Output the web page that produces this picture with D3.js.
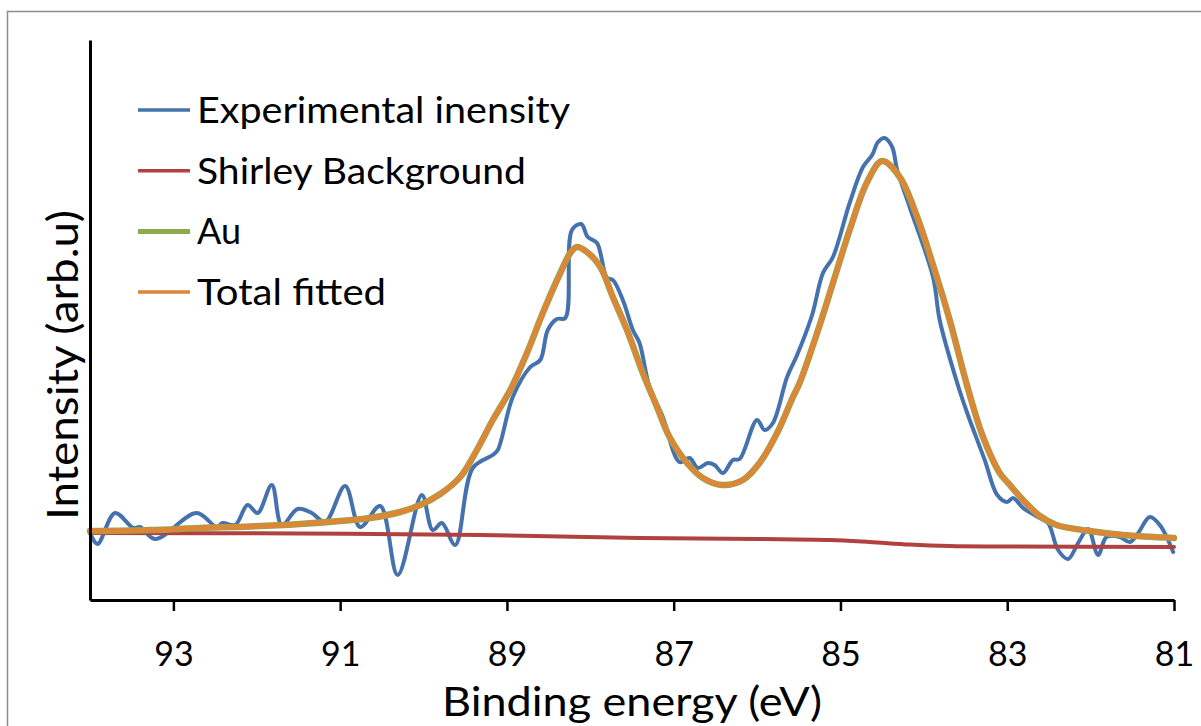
<!DOCTYPE html>
<html>
<head>
<meta charset="utf-8">
<script src="https://cdn.jsdelivr.net/npm/d3@7/dist/d3.min.js"></script>
<style>
  html, body { margin: 0; padding: 0; background: #fff; }
  svg { display: block; font-family: Lato, "Open Sans", sans-serif; }
</style>
</head>
<body>
<svg id="chart" width="1201" height="726"></svg>
<script>
// Au 4f XPS spectrum: binding energy (eV) vs intensity (arb. units)
const tickEnergies = [93, 91, 89, 87, 85, 83, 81];

const expEnergy = [94.00, 93.91, 93.70, 93.48, 93.40, 93.22, 92.72, 92.48, 92.41, 92.26, 92.11, 91.99, 91.82, 91.70,
  91.51, 91.34, 91.18, 90.94, 90.76, 90.52, 90.31, 90.02, 89.89, 89.78, 89.62, 89.41, 89.17, 89.11, 88.93, 88.72,
  88.60, 88.51, 88.40, 88.30, 88.22, 88.11, 88.03, 87.92, 87.80, 87.73, 87.61, 87.49, 87.41, 87.29, 87.13, 86.93,
  86.81, 86.71, 86.59, 86.51, 86.41, 86.29, 86.21, 86.00, 85.91, 85.81, 85.64, 85.52, 85.34, 85.21, 85.09, 84.89,
  84.73, 84.62, 84.55, 84.47, 84.38, 84.32, 84.17, 83.89, 83.81, 83.60, 83.48, 83.27, 83.12, 83.00, 82.93, 82.81,
  82.61, 82.51, 82.39, 82.27, 82.15, 82.03, 81.91, 81.81, 81.65, 81.53, 81.43, 81.29, 81.17, 81.01];
const expIntensity = [67, 56, 87, 72, 73, 61, 87, 73, 77, 75, 95, 87, 115, 75,
  91, 87, 78, 114, 73, 94, 25, 105, 70, 77, 55, 132, 145, 150, 203, 233,
  240, 270, 281, 282, 370, 376, 363, 357, 322, 320, 300, 270, 257, 213, 183, 138,
  142, 132, 137, 135, 127, 140, 141, 180, 170, 177, 223, 245, 285, 327, 343, 397,
  433, 445, 458, 462, 453, 430, 393, 323, 280, 217, 187, 140, 105, 98, 102, 92,
  82, 77, 50, 41, 57, 71, 45, 63, 63, 58, 67, 83, 75, 48];

const bgEnergy = [94.00, 91.48, 89.32, 88.36, 87.41, 85.97, 85.13, 84.65, 84.17, 83.69, 83.09, 81.00];
const bgIntensity = [67, 66.5, 65, 63.5, 62, 61, 60, 58, 55.5, 54, 53.5, 53];

const fitEnergy = [94.00, 93.28, 92.68, 92.08, 91.48, 91.00, 90.64, 90.28, 90.04, 89.80, 89.56, 89.36, 89.17, 88.96,
  88.76, 88.57, 88.36, 88.24, 88.16, 88.04, 87.88, 87.73, 87.56, 87.37, 87.20, 87.05, 86.84, 86.65, 86.42, 86.17,
  85.97, 85.76, 85.57, 85.49, 85.28, 85.09, 84.89, 84.68, 84.50, 84.29, 84.08, 83.89, 83.69, 83.48, 83.29, 83.09,
  83.00, 82.81, 82.61, 82.41, 82.01, 81.61, 81.00];
const auIntensity = [69, 70, 72, 73.5, 76, 79, 82, 88, 95, 106, 123, 150, 180, 210,
  247, 287, 327, 347, 353, 348, 333, 303, 270, 227, 193, 163, 137, 122, 115, 120,
  137, 167, 203, 217, 267, 317, 370, 418, 439, 423, 383, 335, 280, 214, 163, 127,
  118, 100, 84, 75, 69, 65, 62];
// The fitted envelope is made up of the Au doublet alone
const totalIntensity = auIntensity.slice();

const series = [
  { name: "Experimental inensity", color: "#4572ae", width: 4,   e: expEnergy, v: expIntensity,   label: 373 },
  { name: "Shirley Background",    color: "#b0413e", width: 4,   e: bgEnergy,  v: bgIntensity,    label: 329 },
  { name: "Au",                    color: "#8bab4c", width: 6.5, e: fitEnergy, v: auIntensity,    label: 44 },
  { name: "Total fitted",          color: "#dd8637", width: 5,   e: fitEnergy, v: totalIntensity, label: 189 }
];

const svg = d3.select("#chart");

// outer chart frame
svg.append("rect")
  .attr("x", 7.5).attr("y", 11.5).attr("width", 1200).attr("height", 720)
  .attr("fill", "none").attr("stroke", "#8c8c8c").attr("stroke-width", 1.5);

const x = d3.scaleLinear().domain([94, 81]).range([90, 1174]);
const y = d3.scaleLinear().domain([0, 560]).range([600, 40]);

const line = d3.line()
  .x(d => x(d[0])).y(d => y(d[1]))
  .curve(d3.curveCatmullRom.alpha(0.5));

const plot = svg.append("g");
series.forEach(s => {
  plot.append("path")
    .datum(s.e.map((e, i) => [e, s.v[i]]))
    .attr("d", line)
    .attr("fill", "none")
    .attr("stroke", s.color)
    .attr("stroke-width", s.width)
    .attr("stroke-linejoin", "round")
    .attr("stroke-linecap", "round");
});

// axes
const xAxis = svg.append("g")
  .attr("transform", "translate(0,600)")
  .call(d3.axisBottom(x).tickValues(tickEnergies).tickSize(11).tickSizeOuter(0).tickPadding(31)
    .tickFormat(d3.format("d")));
xAxis.select(".domain").attr("stroke", "#000").attr("stroke-width", 3);
xAxis.selectAll(".tick line").attr("stroke", "#000").attr("stroke-width", 2.5);
xAxis.selectAll(".tick text")
  .attr("fill", "#000").style("font-size", "34px").style("font-family", "Lato, sans-serif");

const yAxis = svg.append("g")
  .attr("transform", "translate(90,0)")
  .call(d3.axisLeft(y).tickValues([]).tickSizeOuter(0));
yAxis.select(".domain").attr("stroke", "#000").attr("stroke-width", 3);

// axis titles
svg.append("text")
  .attr("x", 632).attr("y", 716)
  .attr("text-anchor", "middle")
  .attr("textLength", 380).attr("lengthAdjust", "spacingAndGlyphs")
  .style("font-size", "40px")
  .text("Binding energy (eV)");

svg.append("text")
  .attr("transform", "translate(78,365) rotate(-90)")
  .attr("text-anchor", "middle")
  .attr("textLength", 310).attr("lengthAdjust", "spacingAndGlyphs")
  .style("font-size", "42px")
  .text("Intensity (arb.u)");

// legend
const legend = svg.append("g");
series.forEach((s, i) => {
  const cy = 110 + i * 60.7;
  legend.append("line")
    .attr("x1", 138).attr("x2", 190).attr("y1", cy).attr("y2", cy)
    .attr("stroke", s.color).attr("stroke-width", s.name === "Au" ? 5 : 3.5);
  legend.append("text")
    .attr("x", 197).attr("y", cy + 13)
    .attr("textLength", s.label).attr("lengthAdjust", "spacingAndGlyphs")
    .style("font-size", "37px")
    .text(s.name);
});
</script>
</body>
</html>
